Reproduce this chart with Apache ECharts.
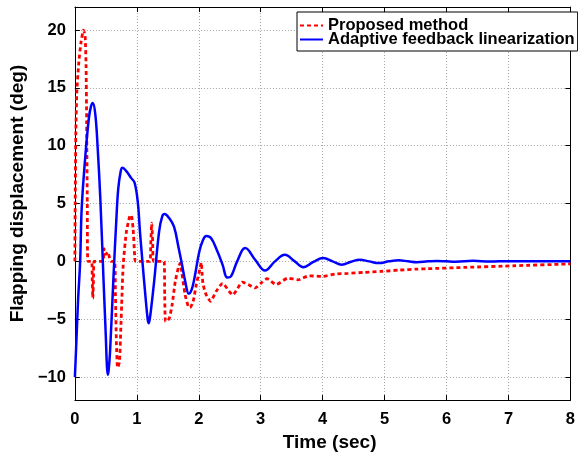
<!DOCTYPE html>
<html>
<head>
<meta charset="utf-8">
<style>
  html, body { margin: 0; padding: 0; background: #fff; }
  #chart { width: 578px; height: 457px; }
</style>
<script src="https://cdn.jsdelivr.net/npm/echarts@6/dist/echarts.min.js"></script>
</head>
<body>
<div id="chart"></div>
<script>
// Flapping displacement response: time (s) and angle (deg) samples
const proposedTime = [0, 0.005, 0.015, 0.03, 0.06, 0.1, 0.14, 0.165, 0.18, 0.19, 0.2, 0.21,
  0.27, 0.28, 0.29, 0.3, 0.31, 0.45, 0.47, 0.5, 0.53, 0.56, 0.58, 0.64, 0.655, 0.67, 0.69,
  0.72, 0.74, 0.76, 0.78, 0.83, 0.885, 0.91, 0.94, 0.965, 0.98, 1.21, 1.225, 1.24, 1.255,
  1.27, 1.44, 1.45, 1.463, 1.5, 1.526, 1.57, 1.62, 1.675, 1.7, 1.727, 1.78, 1.83, 1.86,
  1.91, 1.96, 2.02, 2.04, 2.055, 2.07, 2.12, 2.19, 2.28, 2.385, 2.49, 2.55, 2.62, 2.7, 2.8,
  2.91, 3.0, 3.1, 3.25, 3.44, 3.6, 3.78, 3.99, 4.2, 4.41, 4.68, 4.94, 5.25, 5.52, 5.68,
  6.31, 7.1, 7.94, 8.0];
const proposedDeg = [0, 5, 11, 14.5, 17, 19, 20, 19.5, 17, 12, 5, 0,
  0, -1.5, -3.2, -1.5, 0, 0, 1.1, 0.6, 0.8, 0.3, 0, 0, -3, -7, -9.2,
  -8.7, -6, -3, -0.3, 2.5, 3.9, 4.0, 2.8, 0.5, 0, 0, 1.5, 3.3, 1.8,
  0, 0, -3, -5.2, -5.1, -4.9, -3.75, -1.75, -0.45, -0.15, -1.0, -2.9, -3.9, -4.0,
  -3.45, -2.0, -0.6, -0.1, -1.2, -2.0, -2.9, -3.45, -2.6, -1.9, -2.6, -2.9, -2.4, -1.8, -2.0,
  -2.3, -1.9, -1.5, -2.0, -1.45, -1.6, -1.25, -1.3, -1.1, -1.04, -0.95, -0.87, -0.75, -0.67, -0.64,
  -0.52, -0.38, -0.23, -0.22];

const adaptiveTime = [0, 0.02, 0.05, 0.085, 0.11, 0.17, 0.226, 0.26, 0.289, 0.33, 0.368, 0.41,
  0.463, 0.5, 0.515, 0.53, 0.545, 0.568, 0.62, 0.673, 0.7, 0.74, 0.768, 0.83, 0.91, 0.964,
  1.016, 1.05, 1.095, 1.137, 1.175, 1.19, 1.205, 1.226, 1.28, 1.36, 1.41, 1.45, 1.52, 1.6,
  1.675, 1.73, 1.78, 1.84, 1.885, 1.93, 2.01, 2.07, 2.12, 2.2, 2.3, 2.385, 2.46, 2.52,
  2.62, 2.75, 2.91, 3.07, 3.23, 3.39, 3.55, 3.69, 3.85, 4.01, 4.16, 4.31, 4.46, 4.6,
  4.75, 4.91, 5.07, 5.23, 5.38, 5.52, 5.7, 5.85, 6.0, 6.15, 6.43, 6.7, 7.0, 7.5, 8.0];
const adaptiveDeg = [-10, -7.5, -3.5, 0, 4.6, 9.2, 12.4, 13.4, 13.7, 12.7, 9.8, 5.5,
  -1.7, -6.6, -8.8, -9.8, -9.4, -7.8, -1.7, 4.0, 6.3, 7.8, 8.1, 7.8, 7.2, 6.8,
  5.1, 2.6, -0.3, -2.9, -5.0, -5.35, -5.1, -4.3, -1.7, 2.6, 3.9, 4.1, 3.75, 3.0,
  1.15, -0.3, -1.7, -2.8, -2.45, -1.45, 0.87, 1.87, 2.2, 2.0, 0.87, -0.3, -1.4, -1.3,
  0, 1.15, 0.14, -0.8, 0, 0.57, 0, -0.5, -0.05, 0.28, 0, -0.29, -0.03, 0.14,
  0, -0.15, 0, 0.09, 0, -0.08, 0, 0.04, 0, -0.03, 0.05, -0.02, 0.02, 0, 0];

const timeTicks = [0, 1, 2, 3, 4, 5, 6, 7, 8];
const degTicks = [-10, -5, 0, 5, 10, 15, 20];

const seriesNames = ['Proposed method', 'Adaptive feedback linearization'];

const zip = (xs, ys) => xs.map((x, i) => [x, ys[i]]);

const FONT = '"Liberation Sans", Arial, Helvetica, sans-serif';
const gridLine = { show: true, lineStyle: { color: '#a6a6a6', width: 1, type: [1, 2] } };
const axisLine = { show: true, onZero: false, lineStyle: { color: '#000', width: 1 } };
const tick = { show: true, inside: true, length: 5, lineStyle: { color: '#000', width: 1 } };

const chart = echarts.init(document.getElementById('chart'), null, { renderer: 'canvas' });

chart.setOption({
  animation: false,
  backgroundColor: '#fff',
  grid: { left: 71, right: 2, top: 7, bottom: 55, containLabel: false },
  legend: {
    orient: 'vertical',
    left: 297,
    top: 12,
    width: 279,
    padding: [5, 3, 3, 2],
    itemGap: -3,
    itemWidth: 23,
    itemHeight: 10,
    backgroundColor: '#fff',
    borderColor: '#000',
    borderWidth: 1,
    borderRadius: 0,
    itemStyle: { opacity: 0 },
    textStyle: { fontFamily: FONT, fontWeight: 'bold', fontSize: 16.5, color: '#000', lineHeight: 15, height: 15 },
    data: seriesNames
  },
  xAxis: [
    {
      type: 'value', min: 0, max: 8, interval: 1,
      name: 'Time (sec)', nameLocation: 'middle', nameGap: 30,
      nameTextStyle: { fontFamily: FONT, fontWeight: 'bold', fontSize: 19, color: '#000', padding: [0, 0, 0, 14] },
      axisLine: axisLine, axisTick: tick, splitLine: gridLine,
      axisLabel: {
        margin: 11, fontFamily: FONT, fontWeight: 'bold', fontSize: 16.5, color: '#000',
        customValues: timeTicks
      }
    },
    {
      type: 'value', min: 0, max: 8, interval: 1, position: 'top',
      axisLine: axisLine, axisTick: tick, splitLine: { show: false }, axisLabel: { show: false }
    }
  ],
  yAxis: [
    {
      type: 'value', min: -12, max: 22,
      name: 'Flapping displacement (deg)', nameLocation: 'middle', nameGap: 43,
      nameTextStyle: { fontFamily: FONT, fontWeight: 'bold', fontSize: 19, color: '#000', padding: [0, 0, 0, 20] },
      axisLine: axisLine,
      axisTick: Object.assign({ customValues: degTicks }, tick),
      splitLine: gridLine,
      axisLabel: {
        margin: 9, fontFamily: FONT, fontWeight: 'bold', fontSize: 16.5, color: '#000',
        customValues: degTicks,
        formatter: v => (v < 0 ? '\u2212' + Math.abs(v) : String(v))
      }
    },
    {
      type: 'value', min: -12, max: 22, position: 'right',
      axisLine: axisLine,
      axisTick: Object.assign({ customValues: degTicks }, tick),
      splitLine: { show: false }, axisLabel: { show: false }
    }
  ],
  series: [
    {
      name: seriesNames[0], type: 'line', xAxisIndex: 0, yAxisIndex: 0,
      data: zip(proposedTime, proposedDeg),
      showSymbol: false, symbol: 'none', smooth: 0.2, z: 3,
      lineStyle: { color: '#ff0000', width: 2.8, type: [4, 3] },
      itemStyle: { color: '#ff0000' }
    },
    {
      name: seriesNames[1], type: 'line', xAxisIndex: 0, yAxisIndex: 0,
      data: zip(adaptiveTime, adaptiveDeg),
      showSymbol: false, symbol: 'none', smooth: 0.4, z: 4,
      lineStyle: { color: '#0000ff', width: 2.5, type: 'solid' },
      itemStyle: { color: '#0000ff' }
    }
  ]
});
</script>
</body>
</html>
